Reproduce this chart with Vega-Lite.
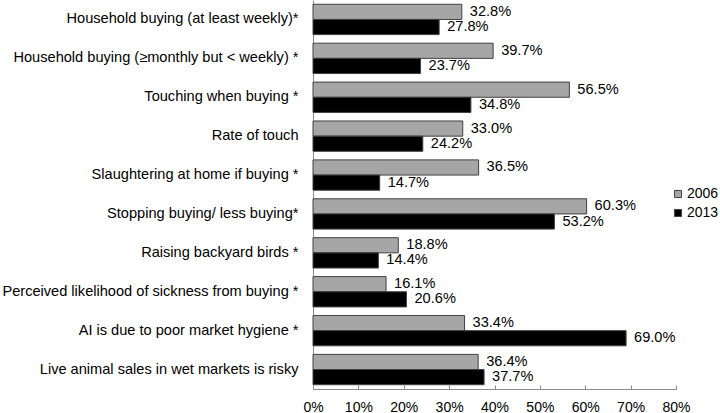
{
  "$schema": "https://vega.github.io/schema/vega-lite/v6.json",
  "width": 363,
  "height": 389,
  "autosize": {"type": "none"},
  "padding": {"left": 313, "top": 0, "right": 44, "bottom": 24},
  "background": "white",
  "config": {
    "font": "Liberation Sans",
    "view": {"stroke": null},
    "axis": {"labelFont": "Liberation Sans", "labelFontSize": 14, "labelColor": "#000000", "grid": false, "title": null, "domainColor": "#8c8c8c", "tickColor": "#8c8c8c"},
    "legend": {"labelFont": "Liberation Sans", "labelFontSize": 14, "labelColor": "#000000"}
  },
  "data": {
    "values": [
      {"item": "Household buying (at least weekly)*", "year": "2006", "value": 0.328},
      {"item": "Household buying (at least weekly)*", "year": "2013", "value": 0.278},
      {"item": "Household buying (≥monthly but < weekly) *", "year": "2006", "value": 0.397},
      {"item": "Household buying (≥monthly but < weekly) *", "year": "2013", "value": 0.237},
      {"item": "Touching when buying *", "year": "2006", "value": 0.565},
      {"item": "Touching when buying *", "year": "2013", "value": 0.348},
      {"item": "Rate of touch", "year": "2006", "value": 0.330},
      {"item": "Rate of touch", "year": "2013", "value": 0.242},
      {"item": "Slaughtering at home if buying *", "year": "2006", "value": 0.365},
      {"item": "Slaughtering at home if buying *", "year": "2013", "value": 0.147},
      {"item": "Stopping buying/ less buying*", "year": "2006", "value": 0.603},
      {"item": "Stopping buying/ less buying*", "year": "2013", "value": 0.532},
      {"item": "Raising backyard birds *", "year": "2006", "value": 0.188},
      {"item": "Raising backyard birds *", "year": "2013", "value": 0.144},
      {"item": "Perceived likelihood of sickness from buying *", "year": "2006", "value": 0.161},
      {"item": "Perceived likelihood of sickness from buying *", "year": "2013", "value": 0.206},
      {"item": "AI is due to poor market hygiene *", "year": "2006", "value": 0.334},
      {"item": "AI is due to poor market hygiene *", "year": "2013", "value": 0.690},
      {"item": "Live animal sales in wet markets is risky", "year": "2006", "value": 0.364},
      {"item": "Live animal sales in wet markets is risky", "year": "2013", "value": 0.377}
    ]
  },
  "encoding": {
    "y": {"field": "item", "type": "nominal", "sort": null, "scale": {"paddingInner": 0.22, "paddingOuter": 0.11},
      "axis": {"ticks": false, "labelPadding": 15, "labelLimit": 400, "labelFontSize": 14.6}},
    "yOffset": {"field": "year", "type": "nominal", "scale": {"paddingInner": 0, "paddingOuter": 0}},
    "x": {"field": "value", "type": "quantitative", "scale": {"domain": [0, 0.8], "nice": false},
      "axis": {"format": ".0%", "values": [0, 0.1, 0.2, 0.3, 0.4, 0.5, 0.6, 0.7, 0.8], "tickSize": -4, "labelPadding": 15, "labelFlush": false, "labelOverlap": false}}
  },
  "layer": [
    {
      "mark": {"type": "bar", "stroke": "#404040", "strokeWidth": 1},
      "encoding": {
        "color": {"field": "year", "type": "nominal", "scale": {"domain": ["2006", "2013"], "range": ["#a6a6a6", "#000000"]},
          "legend": {"title": null, "orient": "none", "legendX": 358, "legendY": 187, "symbolType": "square", "symbolSize": 50, "symbolStrokeWidth": 1, "rowPadding": 5, "labelOffset": 2}}
      }
    },
    {
      "mark": {"type": "text", "align": "left", "baseline": "middle", "dx": 8, "fontSize": 14.6, "font": "Liberation Sans", "color": "#000000"},
      "encoding": {"text": {"field": "value", "type": "quantitative", "format": ".1%"}}
    }
  ]
}
